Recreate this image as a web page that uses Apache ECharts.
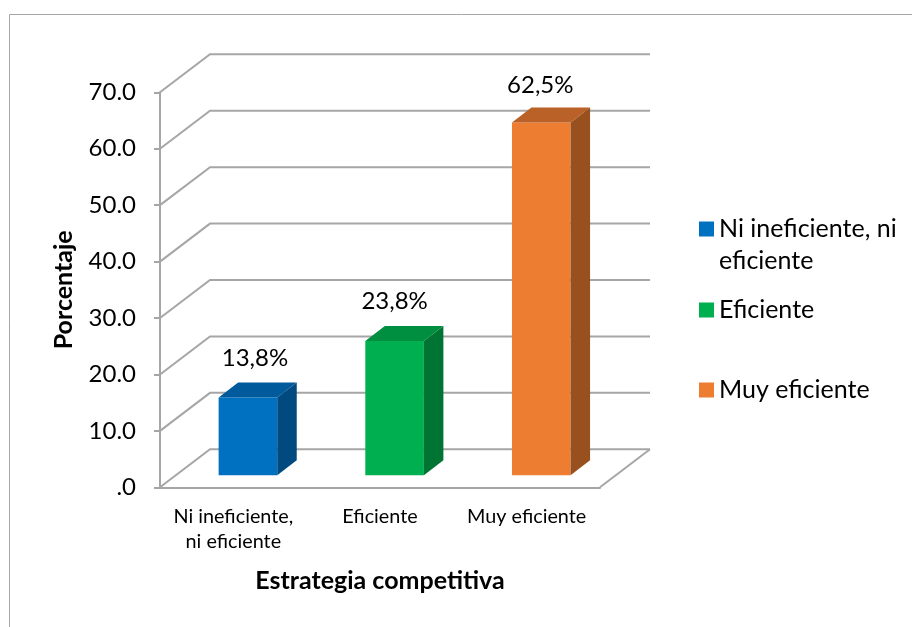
<!DOCTYPE html>
<html>
<head>
<meta charset="utf-8">
<style>html,body{margin:0;padding:0;background:#fff}#c{width:912px;height:627px}</style>
<script src="https://cdn.jsdelivr.net/npm/echarts@6/dist/echarts.min.js"></script>
</head>
<body>
<div id="c"></div>
<script>
const categories = ['Ni ineficiente,\nni eficiente', 'Eficiente', 'Muy eficiente'];
const seriesNames = ['Ni ineficiente, ni eficiente', 'Eficiente', 'Muy eficiente'];
const values = [13.8, 23.8, 62.5];
const yTicks = [0, 10, 20, 30, 40, 50, 60, 70];
const yTickLabels = ['.0', '10.0', '20.0', '30.0', '40.0', '50.0', '60.0', '70.0'];
const frontColors = ['#0070c0', '#00b050', '#ed7d31'];
const topColors = ['#005a9b', '#008e40', '#b96126'];
const sideColors = ['#004a80', '#007533', '#98501f'];

const FONT = 'Lato';
const GREY = '#a6a6a6';
const WALL_DX = 50, WALL_DY = -38;
const BAR_SHIFT_X = 14.6, BAR_SHIFT_Y = -12, BAR_DX = 19.5, BAR_DY = -15, BAR_W = 58.6;
const LABEL_DX = [7, 0, -1], LABEL_DY = [-39.5, -39.5, -37.5];

const chart = echarts.init(document.getElementById('c'), null, {renderer: 'canvas'});

function wallItem(params, api) {
  const cs = params.coordSys;
  const y = api.coord([0, api.value(0)])[1];
  const l = cs.x, r = cs.x + cs.width;
  const lineStyle = {stroke: GREY, lineWidth: 2, fill: null};
  const children = [{
    type: 'polyline', silent: true,
    shape: {points: [[l, y], [l + WALL_DX, y + WALL_DY], [r + WALL_DX, y + WALL_DY]]},
    style: lineStyle
  }];
  if (api.value(0) === 0) {
    children.push({type: 'line', silent: true,
      shape: {x1: r, y1: y, x2: r + WALL_DX, y2: y + WALL_DY}, style: lineStyle});
  }
  return {type: 'group', children};
}

function barItem(i) {
  return function (params, api) {
    const top = api.coord([api.value(0), api.value(1)]);
    const base = api.coord([api.value(0), 0]);
    const x0 = top[0] + BAR_SHIFT_X - BAR_W / 2, x1 = x0 + BAR_W;
    const yT = top[1] + BAR_SHIFT_Y, yB = base[1] + BAR_SHIFT_Y;
    const poly = (pts, fill) => ({type: 'polygon', shape: {points: pts}, style: {fill}});
    return {type: 'group', children: [
      poly([[x0, yT], [x1, yT], [x1, yB], [x0, yB]], frontColors[i]),
      poly([[x1, yT], [x1 + BAR_DX, yT + BAR_DY], [x1 + BAR_DX, yB + BAR_DY], [x1, yB]], sideColors[i]),
      poly([[x0, yT], [x0 + BAR_DX, yT + BAR_DY], [x1 + BAR_DX, yT + BAR_DY], [x1, yT]], topColors[i]),
      {type: 'text', style: {
        x: (x0 + x1) / 2 + LABEL_DX[i], y: yT + LABEL_DY[i],
        text: api.value(1).toFixed(1).replace('.', ',') + '%',
        font: '24px ' + FONT, fill: '#000', align: 'center', verticalAlign: 'middle'
      }}
    ]};
  };
}

const legendCenters = [229, 310, 390];
const legends = seriesNames.map((n, i) => ({
  data: [n], orient: 'vertical', left: 699, top: legendCenters[i] - 14, padding: 0,
  itemWidth: 15, itemHeight: 15, selectedMode: false, icon: 'rect',
  formatter: i === 0 ? () => 'Ni ineficiente, ni' : undefined,
  textStyle: {fontFamily: FONT, fontSize: 25, color: '#000', lineHeight: 28}
}));

chart.setOption({
  animation: false,
  backgroundColor: '#fff',
  grid: {left: 160, top: 92.3, width: 440, height: 395},
  legend: legends,
  xAxis: {
    type: 'category', data: categories,
    axisLine: {show: true, onZero: false, lineStyle: {color: GREY, width: 2}},
    axisTick: {show: false},
    axisLabel: {fontFamily: FONT, fontSize: 19.8, color: '#000', lineHeight: 25, margin: 16.5, interval: 0},
    name: 'Estrategia competitiva', nameLocation: 'middle', nameGap: 81,
    nameTextStyle: {fontFamily: FONT, fontSize: 25, fontWeight: 'bold', color: '#000'}
  },
  yAxis: {
    type: 'value', min: 0, max: 70, interval: 10,
    axisLine: {show: true, lineStyle: {color: GREY, width: 2}},
    axisTick: {show: true, length: 6, lineStyle: {color: GREY, width: 2}},
    splitLine: {show: false},
    axisLabel: {
      fontFamily: FONT, fontSize: 24, color: '#000', margin: 24, padding: [5, 0, 0, 0],
      formatter: v => yTickLabels[yTicks.indexOf(v)]
    },
    name: 'Porcentaje', nameLocation: 'middle', nameGap: 84,
    nameTextStyle: {fontFamily: FONT, fontSize: 25, fontWeight: 'bold', color: '#000'}
  },
  graphic: [
    {type: 'rect', silent: true, z: -1,
     shape: {x: 9.5, y: 14.5, width: 1000, height: 1000},
     style: {fill: null, stroke: GREY, lineWidth: 1}},
    {type: 'text', left: 719, top: 248.5, silent: true,
     style: {text: 'eficiente', font: '25px ' + FONT, fill: '#000'}}
  ],
  series: [
    {type: 'custom', name: 'Paredes', coordinateSystem: 'cartesian2d', z: 1, silent: true,
     renderItem: wallItem, data: yTicks.map(t => [t]), encode: {y: 0}},
    ...seriesNames.map((n, i) => ({
      type: 'custom', name: n, coordinateSystem: 'cartesian2d', z: 3, silent: true,
      renderItem: barItem(i), data: [[i, values[i]]], encode: {x: 0, y: 1},
      itemStyle: {color: frontColors[i]}
    }))
  ]
});
</script>
</body>
</html>
